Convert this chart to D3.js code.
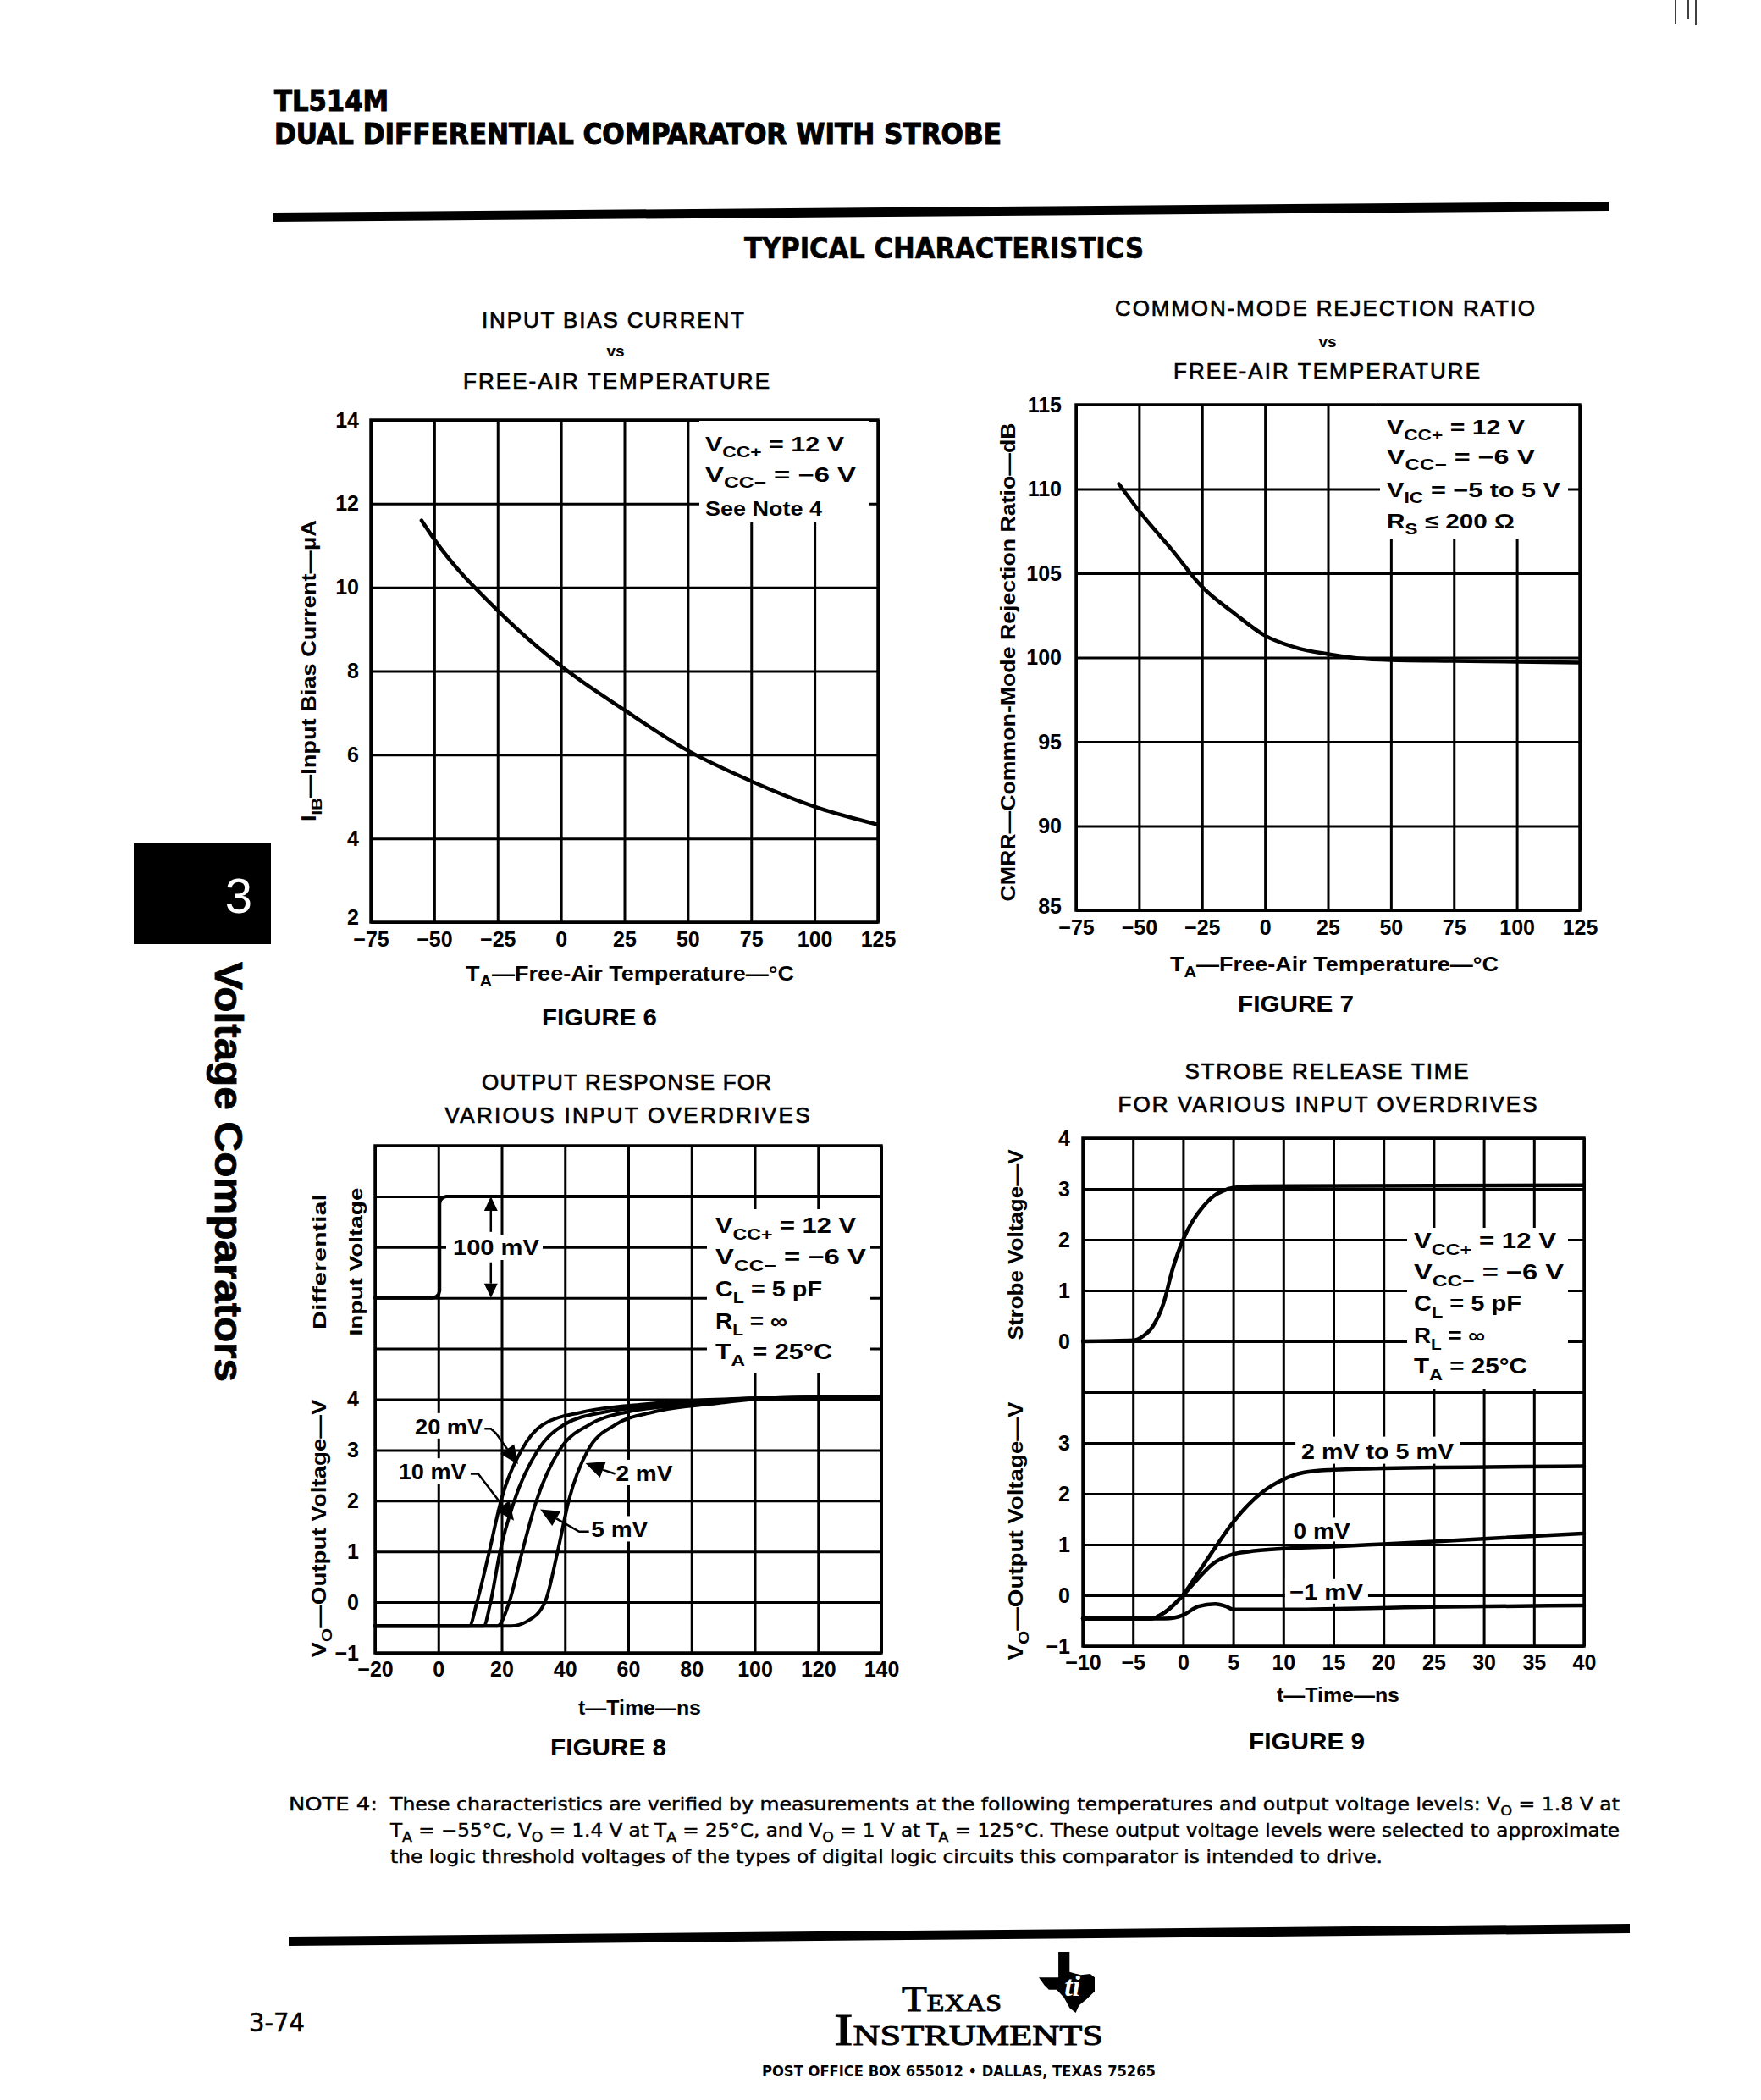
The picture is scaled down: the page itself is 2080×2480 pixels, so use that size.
<!DOCTYPE html>
<html><head><meta charset="utf-8">
<script src="https://cdn.jsdelivr.net/npm/d3@7"></script>
<style>
body{margin:0;background:#fff;}
svg text{font-family:"Liberation Sans",Arial,Helvetica,sans-serif;fill:#000;}
</style></head><body>
<script>
// ---------------- DATA ----------------
// Figure 6: input bias current vs free-air temperature
const fig6Temp = [-55, -50, -25, 0, 25, 50, 75, 100, 125];
const fig6Bias = [11.6, 11.15, 9.45, 8.12, 7.07, 6.1, 5.37, 4.76, 4.33];
const fig6XTicks = [-75, -50, -25, 0, 25, 50, 75, 100, 125];
const fig6YTicks = [2, 4, 6, 8, 10, 12, 14];

// Figure 7: CMRR vs free-air temperature
const fig7Temp = [-58, -50, -37, -25, -12, 0, 12, 25, 37, 50, 75, 100, 125];
const fig7CMRR = [110.3, 108.7, 106.4, 104.2, 102.6, 101.3, 100.6, 100.2, 99.95, 99.85, 99.8, 99.75, 99.7];
const fig7XTicks = [-75, -50, -25, 0, 25, 50, 75, 100, 125];
const fig7YTicks = [85, 90, 95, 100, 105, 110, 115];

// Figure 8: output response for various input overdrives (time in ns)
const fig8InputT = [-20, -1.8, -0.7, 0.1, 0.4, 0.4, 0.7, 1.5, 2.6, 140];
const fig8InputV = [6, 6, 6.02, 6.07, 6.14, 7.86, 7.93, 7.98, 8, 8];   // upper panel units (6 = low, 8 = high)
const fig8T20 = [-20, 9.8, 12.2, 16.1, 19.8, 26.3, 33, 45.7, 64.8, 100, 140];
const fig8V20 = [-0.47, -0.47, 0, 1, 2, 3, 3.5, 3.75, 3.9, 4.02, 4.05];
const fig8T10 = [-20, 14.3, 16.5, 19.5, 24, 31.5, 39.7, 52.6, 75, 100, 140];
const fig8V10 = [-0.47, -0.47, 0, 1, 2, 3, 3.5, 3.75, 3.9, 4.02, 4.05];
const fig8T5 = [-20, 18.7, 22.4, 26.5, 31, 38.3, 47.7, 59.6, 80, 100, 140];
const fig8V5 = [-0.47, -0.47, 0, 1, 2, 3, 3.5, 3.75, 3.9, 4.02, 4.05];
const fig8T2 = [-20, 23, 28, 33.7, 37.7, 41.2, 47.3, 56, 68, 88, 105, 140];
const fig8V2 = [-0.47, -0.47, -0.38, 0, 1, 2, 3, 3.5, 3.75, 3.92, 4.02, 4.05];
const fig8XTicks = [-20, 0, 20, 40, 60, 80, 100, 120, 140];
const fig8YTicks = [-1, 0, 1, 2, 3, 4];

// Figure 9: strobe release time
const fig9StrobeT = [-10, -5, -4, -3, -2, -1, 0, 1, 2, 3, 4, 5, 7, 40];
const fig9StrobeV = [0, 0.02, 0.1, 0.3, 0.72, 1.45, 2.0, 2.38, 2.65, 2.85, 2.96, 3.02, 3.05, 3.07];
const fig9T25 = [-10, -3.2, -1.8, 0, 1.5, 3.2, 5, 6.5, 7.9, 10, 12.1, 14.9, 20, 40];
const fig9V25 = [-0.46, -0.46, -0.33, 0.01, 0.44, 0.94, 1.44, 1.78, 2.03, 2.28, 2.42, 2.47, 2.5, 2.54];
const fig9T0 = [-10, -3.2, -1.8, 0, 1.5, 2.9, 5, 6.5, 10, 14.9, 20, 25, 40];
const fig9V0 = [-0.46, -0.46, -0.33, 0, 0.33, 0.61, 0.81, 0.86, 0.92, 0.96, 1.01, 1.06, 1.22];
const fig9Tm1 = [-10, -1.8, 0, 1.5, 3.2, 4.3, 5, 9.3, 24.6, 40];
const fig9Vm1 = [-0.46, -0.46, -0.39, -0.22, -0.17, -0.22, -0.28, -0.28, -0.23, -0.2];
const fig9XTicks = [-10, -5, 0, 5, 10, 15, 20, 25, 30, 35, 40];
const fig9YTicksLower = [-1, 0, 1, 2, 3];
const fig9YTicksUpper = [0, 1, 2, 3, 4];

// ---------------- HELPERS ----------------
const svg = d3.select('body').append('svg').attr('width', 2080).attr('height', 2480)
  .style('background', '#fff');
svg.append('rect').attr('width', 2080).attr('height', 2480).attr('fill', '#fff');

const SANS = '"Liberation Sans", Arial, sans-serif';
const NARROW = '"Liberation Sans Narrow", "DejaVu Sans Condensed", "Liberation Sans", sans-serif';
const SERIF = '"Liberation Serif", "DejaVu Serif", serif';

function addText(parent, x, y, parts, o = {}) {
  const size = o.size || 24;
  const t = parent.append('text').attr('x', x).attr('y', y)
    .attr('font-size', size)
    .attr('font-weight', o.weight || 'bold')
    .attr('text-anchor', o.anchor || 'start')
    .style('font-family', o.family || SANS);
  if (o.stroke) t.attr('stroke', '#000').attr('stroke-width', o.stroke);
  if (o.rotate) t.attr('transform', `rotate(${o.rotate},${x},${y})`);
  if (o.len) t.attr('textLength', o.len).attr('lengthAdjust', o.adjust || 'spacingAndGlyphs');
  if (typeof parts === 'string') parts = [parts];
  let pending = 0;
  parts.forEach(p => {
    if (typeof p === 'string') {
      const ts = t.append('tspan').text(p);
      if (pending) { ts.attr('dy', pending); pending = 0; }
    } else if (p.sub !== undefined) {
      const d = size * 0.3;
      t.append('tspan').attr('dy', d + pending).attr('font-size', size * 0.75).text(p.sub);
      pending = -d;
    } else if (p.big !== undefined) {
      t.append('tspan').attr('font-size', p.size).text(p.big);
    }
  });
  return t;
}

function makeChart(c) {
  const g = svg.append('g');
  const x = d3.scaleLinear().domain(c.xDomain).range([c.left, c.right]);
  const y = d3.scaleLinear().domain(c.yDomain).range([c.bottom, c.top]);
  const w = c.right - c.left, h = c.bottom - c.top;
  const gw = 3;
  g.append('g').attr('transform', `translate(0,${c.bottom})`)
    .call(d3.axisBottom(x).tickValues(c.xGrid).tickSize(-h).tickFormat(() => ''))
    .call(s => s.select('.domain').remove())
    .call(s => s.selectAll('line').attr('stroke', '#000').attr('stroke-width', gw));
  g.append('g').attr('transform', `translate(${c.left},0)`)
    .call(d3.axisLeft(y).tickValues(c.yGrid).tickSize(-w).tickFormat(() => ''))
    .call(s => s.select('.domain').remove())
    .call(s => s.selectAll('line').attr('stroke', '#000').attr('stroke-width', gw));
  g.append('rect').attr('x', c.left).attr('y', c.top).attr('width', w).attr('height', h)
    .attr('fill', 'none').attr('stroke', '#000').attr('stroke-width', 3.5);
  const xa = g.append('g').attr('transform', `translate(0,${c.bottom})`)
    .call(d3.axisBottom(x).tickValues(c.xTicks).tickSize(0).tickPadding(c.xPad).tickFormat(d3.format('d')));
  xa.select('.domain').remove();
  xa.selectAll('text').attr('font-size', c.tick).attr('font-weight', 'bold').attr('fill', '#000');
  const ya = g.append('g').attr('transform', `translate(${c.left},0)`)
    .call(d3.axisLeft(y).tickValues(c.yTicks).tickSize(0).tickPadding(c.yPad)
      .tickFormat(c.yFmt || d3.format('d')));
  ya.select('.domain').remove();
  ya.selectAll('text').attr('font-size', c.tick).attr('font-weight', 'bold').attr('fill', '#000');
  // the lowest y label sits slightly above the corner, clear of the first x label
  if (c.liftBottom) ya.selectAll('.tick').filter(d => d === c.yDomain[0]).select('text').attr('y', -c.liftBottom);
  return { g, x, y };
}

function whiteBox(g, x0, y0, x1, y1) {
  g.append('rect').attr('x', x0).attr('y', y0).attr('width', x1 - x0).attr('height', y1 - y0).attr('fill', '#fff');
}

function drawCurve(g, xs, ys, sx, sy, width, curve) {
  const pts = xs.map((d, i) => [d, ys[i]]);
  g.append('path').datum(pts)
    .attr('d', d3.line().x(d => sx(d[0])).y(d => sy(d[1])).curve(curve || d3.curveMonotoneX))
    .attr('fill', 'none').attr('stroke', '#000').attr('stroke-width', width)
    .attr('stroke-linejoin', 'round').attr('stroke-linecap', 'round');
}

function arrowLeader(g, pts, sx, sy, headLen = 22, headW = 10) {
  const P = pts.map(p => [sx(p[0]), sy(p[1])]);
  const tip = P[P.length - 1], prev = P[P.length - 2];
  const dx = tip[0] - prev[0], dy = tip[1] - prev[1];
  const L = Math.hypot(dx, dy), ux = dx / L, uy = dy / L;
  const base = [tip[0] - ux * headLen, tip[1] - uy * headLen];
  const line = P.slice(0, -1).concat([base]);
  g.append('path').attr('d', d3.line()(line)).attr('fill', 'none').attr('stroke', '#000').attr('stroke-width', 2.5);
  g.append('path').attr('d', d3.line()([tip, [base[0] - uy * headW, base[1] + ux * headW], [base[0] + uy * headW, base[1] - ux * headW]]) + 'Z')
    .attr('fill', '#000');
}

function legendLines(g, x, baselines, lines, lens, size) {
  lines.forEach((l, i) => addText(g, x, baselines[i], l, { size: size, len: lens[i] }));
}

const VCCP = ['V', { sub: 'CC+' }, ' = 12 V'];
const VCCM = ['V', { sub: 'CC−' }, ' = −6 V'];

// ---------------- PAGE HEADER ----------------
addText(svg, 324, 131, 'TL514M', { size: 34, family: NARROW, len: 135, stroke: 1 });
addText(svg, 324, 170, 'DUAL DIFFERENTIAL COMPARATOR WITH STROBE', { size: 34, family: NARROW, len: 859, stroke: 1 });
svg.append('path').attr('d', 'M322,251 L1900,238 L1900,249 L322,262 Z').attr('fill', '#000');
addText(svg, 1115, 305, 'TYPICAL CHARACTERISTICS', { size: 34, family: NARROW, len: 472, anchor: 'middle', stroke: 0.6 });

// scanner marks
[[1979, 28], [1994, 22], [2003, 30]].forEach(m => svg.append('line').attr('x1', m[0]).attr('x2', m[0]).attr('y1', 0).attr('y2', m[1]).attr('stroke', '#000').attr('stroke-width', 1.5));

// ---------------- FIGURE 6 ----------------
{
  const c = makeChart({ left: 438, right: 1037, top: 496, bottom: 1089, xDomain: [-75, 125], yDomain: [2, 14],
    xGrid: fig6XTicks, yGrid: fig6YTicks, xTicks: fig6XTicks, yTicks: fig6YTicks, xPad: 11, yPad: 14, tick: 25, liftBottom: 6 });
  whiteBox(c.g, 826, 497, 1026, 617);
  drawCurve(c.g, fig6Temp, fig6Bias, c.x, c.y, 4.5);
  legendLines(c.g, 833, [533, 569, 609], [VCCP, VCCM, 'See Note 4'], [164, 178, 138], 24);
  addText(svg, 724, 387, 'INPUT BIAS CURRENT', { size: 26, weight: 'normal', stroke: 0.7, anchor: 'middle', len: 310, adjust: 'spacing' });
  addText(svg, 727, 421, 'vs', { size: 19, anchor: 'middle' });
  addText(svg, 728, 459, 'FREE-AIR TEMPERATURE', { size: 26, weight: 'normal', stroke: 0.7, anchor: 'middle', len: 362, adjust: 'spacing' });
  addText(svg, 373, 792, ['I', { sub: 'IB' }, '—Input Bias Current—μA'], { size: 23, rotate: -90, anchor: 'middle', len: 356 });
  addText(svg, 550, 1158, ['T', { sub: 'A' }, '—Free-Air Temperature—°C'], { size: 24, len: 388 });
  addText(svg, 640, 1211, 'FIGURE 6', { size: 27, len: 136 });
}

// ---------------- FIGURE 7 ----------------
{
  const c = makeChart({ left: 1271, right: 1866, top: 478, bottom: 1075, xDomain: [-75, 125], yDomain: [85, 115],
    xGrid: fig7XTicks, yGrid: fig7YTicks, xTicks: fig7XTicks, yTicks: fig7YTicks, xPad: 11, yPad: 17, tick: 25, liftBottom: 5 });
  whiteBox(c.g, 1630, 479, 1852, 636);
  drawCurve(c.g, fig7Temp, fig7CMRR, c.x, c.y, 4.5);
  legendLines(c.g, 1638, [513, 548, 587, 624],
    [VCCP, VCCM, ['V', { sub: 'IC' }, ' = −5 to 5 V'], ['R', { sub: 'S' }, ' ≤ 200 Ω']], [163, 175, 205, 151], 24);
  addText(svg, 1565, 373, 'COMMON-MODE REJECTION RATIO', { size: 26, weight: 'normal', stroke: 0.7, anchor: 'middle', len: 496, adjust: 'spacing' });
  addText(svg, 1568, 410, 'vs', { size: 19, anchor: 'middle' });
  addText(svg, 1567, 447, 'FREE-AIR TEMPERATURE', { size: 26, weight: 'normal', stroke: 0.7, anchor: 'middle', len: 362, adjust: 'spacing' });
  addText(svg, 1199, 782, 'CMRR—Common-Mode Rejection Ratio—dB', { size: 23, rotate: -90, anchor: 'middle', len: 565 });
  addText(svg, 1382, 1147, ['T', { sub: 'A' }, '—Free-Air Temperature—°C'], { size: 24, len: 388 });
  addText(svg, 1462, 1195, 'FIGURE 7', { size: 27, len: 137 });
}

// ---------------- FIGURE 8 ----------------
{
  const c = makeChart({ left: 443, right: 1041, top: 1353, bottom: 1952, xDomain: [-20, 140], yDomain: [-1, 9],
    xGrid: fig8XTicks, yGrid: d3.range(-1, 10), xTicks: fig8XTicks, yTicks: fig8YTicks, xPad: 10, yPad: 19, tick: 25 });
  // white backgrounds for labels
  whiteBox(c.g, 835, 1428, 1028, 1622);
  whiteBox(c.g, 527, 1458, 641, 1488);
  const lab = (t, v, w) => [c.x(t) - 5, c.y(v) - 25, c.x(t) + w + 5, c.y(v) + 5];
  [[-7.4, 3.31, 80], [-12.6, 2.42, 80], [56.1, 2.39, 67], [48.3, 1.28, 67]].forEach(a => {
    const b = lab(a[0], a[1], a[2]); whiteBox(c.g, b[0], b[1], b[2], b[3]);
  });
  // input step
  drawCurve(c.g, fig8InputT, fig8InputV, c.x, c.y, 4, d3.curveLinear);
  // outputs
  drawCurve(c.g, fig8T20, fig8V20, c.x, c.y, 4);
  drawCurve(c.g, fig8T10, fig8V10, c.x, c.y, 4);
  drawCurve(c.g, fig8T5, fig8V5, c.x, c.y, 4);
  drawCurve(c.g, fig8T2, fig8V2, c.x, c.y, 4);
  // 100 mV arrow
  const ax = 16.6;
  arrowLeader(c.g, [[ax, 7.3], [ax, 8]], c.x, c.y, 17, 8);
  arrowLeader(c.g, [[ax, 6.7], [ax, 6]], c.x, c.y, 17, 8);
  addText(c.g, c.x(4.6), c.y(7) + 9, '100 mV', { size: 26, len: 102 });
  // overdrive labels
  addText(c.g, c.x(-7.4), c.y(3.31), '20 mV', { size: 26, len: 80 });
  addText(c.g, c.x(-12.6), c.y(2.42), '10 mV', { size: 26, len: 80 });
  addText(c.g, c.x(56.1), c.y(2.39), '2 mV', { size: 26, len: 67 });
  addText(c.g, c.x(48.3), c.y(1.28), '5 mV', { size: 26, len: 67 });
  arrowLeader(c.g, [[14.6, 3.42], [16.6, 3.42], [18.2, 3.33], [25.2, 2.72]], c.x, c.y);
  arrowLeader(c.g, [[10.2, 2.53], [12.6, 2.53], [23.9, 1.61]], c.x, c.y);
  arrowLeader(c.g, [[55.9, 2.53], [52.5, 2.6], [46.5, 2.74]], c.x, c.y);
  arrowLeader(c.g, [[47.6, 1.39], [44.5, 1.39], [32.2, 1.83]], c.x, c.y);
  legendLines(c.g, 845, [1456, 1493, 1531, 1569, 1605],
    [VCCP, VCCM, ['C', { sub: 'L' }, ' = 5 pF'], ['R', { sub: 'L' }, ' = ∞'], ['T', { sub: 'A' }, ' = 25°C']],
    [166, 178, 126, 85, 138], 25);
  addText(svg, 740, 1287, 'OUTPUT RESPONSE FOR', { size: 26, weight: 'normal', stroke: 0.7, anchor: 'middle', len: 342, adjust: 'spacing' });
  addText(svg, 741, 1326, 'VARIOUS INPUT OVERDRIVES', { size: 26, weight: 'normal', stroke: 0.7, anchor: 'middle', len: 431, adjust: 'spacing' });
  addText(svg, 385, 1490, 'Differential', { size: 22, rotate: -90, anchor: 'middle', len: 160 });
  addText(svg, 428, 1490, 'Input Voltage', { size: 22, rotate: -90, anchor: 'middle', len: 175 });
  addText(svg, 385, 1805, ['V', { sub: 'O' }, '—Output Voltage—V'], { size: 23, rotate: -90, anchor: 'middle', len: 305 });
  addText(svg, 683, 2025, 't—Time—ns', { size: 24, len: 145 });
  addText(svg, 650, 2073, 'FIGURE 8', { size: 27, len: 137 });
}

// ---------------- FIGURE 9 ----------------
{
  const yTickVals = fig9YTicksLower.concat(fig9YTicksUpper.map(v => v + 5));
  const c = makeChart({ left: 1279, right: 1871, top: 1344, bottom: 1944, xDomain: [-10, 40], yDomain: [-1, 9],
    xGrid: fig9XTicks, yGrid: d3.range(-1, 10), xTicks: fig9XTicks, yTicks: yTickVals, xPad: 10, yPad: 15, tick: 25,
    yFmt: u => d3.format('d')(u >= 5 ? u - 5 : u) });
  whiteBox(c.g, 1662, 1450, 1852, 1640);
  whiteBox(c.g, c.x(11.8) - 7, c.y(2.69) - 26, c.x(11.8) + 187, c.y(2.69) + 6);
  whiteBox(c.g, c.x(11.0) - 6, c.y(1.11) - 25, c.x(11.0) + 73, c.y(1.11) + 3);
  whiteBox(c.g, c.x(10.6) - 5, c.y(-0.08) - 24, c.x(10.6) + 93, c.y(-0.08) + 5);
  const su = fig9StrobeV.map(v => v + 5);
  drawCurve(c.g, fig9StrobeT, su, c.x, c.y, 4.5);
  drawCurve(c.g, fig9T25, fig9V25, c.x, c.y, 4.5);
  drawCurve(c.g, fig9T0, fig9V0, c.x, c.y, 4.5);
  drawCurve(c.g, fig9Tm1, fig9Vm1, c.x, c.y, 4.5);
  addText(c.g, c.x(11.8), c.y(2.69), '2 mV to 5 mV', { size: 26, len: 180 });
  addText(c.g, c.x(11.0), c.y(1.11), '0 mV', { size: 26, len: 67 });
  addText(c.g, c.x(10.6), c.y(-0.08), '−1 mV', { size: 26, len: 87 });
  legendLines(c.g, 1670, [1474, 1511, 1548, 1586, 1622],
    [VCCP, VCCM, ['C', { sub: 'L' }, ' = 5 pF'], ['R', { sub: 'L' }, ' = ∞'], ['T', { sub: 'A' }, ' = 25°C']],
    [168, 177, 127, 84, 134], 25);
  addText(svg, 1567, 1274, 'STROBE RELEASE TIME', { size: 26, weight: 'normal', stroke: 0.7, anchor: 'middle', len: 335, adjust: 'spacing' });
  addText(svg, 1568, 1313, 'FOR VARIOUS INPUT OVERDRIVES', { size: 26, weight: 'normal', stroke: 0.7, anchor: 'middle', len: 495, adjust: 'spacing' });
  addText(svg, 1208, 1470, 'Strobe Voltage—V', { size: 23, rotate: -90, anchor: 'middle', len: 225 });
  addText(svg, 1208, 1808, ['V', { sub: 'O' }, '—Output Voltage—V'], { size: 23, rotate: -90, anchor: 'middle', len: 305 });
  addText(svg, 1508, 2010, 't—Time—ns', { size: 24, len: 145 });
  addText(svg, 1475, 2066, 'FIGURE 9', { size: 27, len: 137 });
}

// ---------------- SIDE TAB ----------------
svg.append('rect').attr('x', 158).attr('y', 996).attr('width', 162).attr('height', 119).attr('fill', '#000');
svg.append('text').attr('x', 282).attr('y', 1078).attr('font-size', 58).attr('text-anchor', 'middle')
  .style('fill', '#fff').text('3');
addText(svg, 254, 1384, 'Voltage Comparators', { size: 46, rotate: 90, anchor: 'middle', len: 496, stroke: 0.8 });

// ---------------- NOTE ----------------
addText(svg, 341, 2138, 'NOTE 4:', { size: 21, weight: 'normal', stroke: 0.4, family: NARROW, len: 105 });
addText(svg, 461, 2138, ['These characteristics are verified by measurements at the following temperatures and output voltage levels: V', { sub: 'O' }, ' = 1.8 V at'],
  { size: 21, weight: 'normal', stroke: 0.4, family: NARROW, len: 1452 });
addText(svg, 461, 2169, ['T', { sub: 'A' }, ' = −55°C, V', { sub: 'O' }, ' = 1.4 V at T', { sub: 'A' }, ' = 25°C, and V', { sub: 'O' }, ' = 1 V at T', { sub: 'A' }, ' = 125°C. These output voltage levels were selected to approximate'],
  { size: 21, weight: 'normal', stroke: 0.4, family: NARROW, len: 1452 });
addText(svg, 461, 2200, 'the logic threshold voltages of the types of digital logic circuits this comparator is intended to drive.',
  { size: 21, weight: 'normal', stroke: 0.4, family: NARROW, len: 1172 });

// ---------------- FOOTER ----------------
svg.append('path').attr('d', 'M341,2287 L1925,2272 L1925,2283 L341,2298 Z').attr('fill', '#000');
addText(svg, 294, 2399, '3-74', { size: 30, weight: 'normal', stroke: 0.5, family: NARROW, len: 66 });
addText(svg, 1065, 2375, [{ big: 'T', size: 42 }, 'EXAS'], { size: 29, weight: 'normal', family: SERIF, len: 118, stroke: 0.9 });
addText(svg, 985, 2415, [{ big: 'I', size: 52 }, 'NSTRUMENTS'], { size: 34, weight: 'normal', family: SERIF, len: 318, stroke: 0.9 });
{
  const x0 = 1227, y0 = 2305, w = 66, h = 72;
  const tx = [[0.35, 0], [0.55, 0], [0.55, 0.33], [0.75, 0.38], [0.92, 0.36], [1.0, 0.42], [1.0, 0.65], [0.85, 0.78],
    [0.72, 0.88], [0.66, 1.0], [0.55, 0.92], [0.45, 0.75], [0.32, 0.62], [0.18, 0.62], [0.1, 0.55], [0, 0.42], [0.35, 0.42]];
  svg.append('path').attr('d', d3.line()(tx.map(p => [x0 + p[0] * w, y0 + p[1] * h])) + 'Z').attr('fill', '#000');
  svg.append('text').attr('x', x0 + 0.6 * w).attr('y', y0 + 0.72 * h).attr('font-size', 34).attr('font-weight', 'bold')
    .attr('font-style', 'italic').attr('text-anchor', 'middle').style('font-family', SERIF).style('fill', '#fff').text('ti');
}
addText(svg, 900, 2452, 'POST OFFICE BOX 655012 • DALLAS, TEXAS 75265', { size: 18, family: NARROW, len: 465 });
</script>
</body></html>
